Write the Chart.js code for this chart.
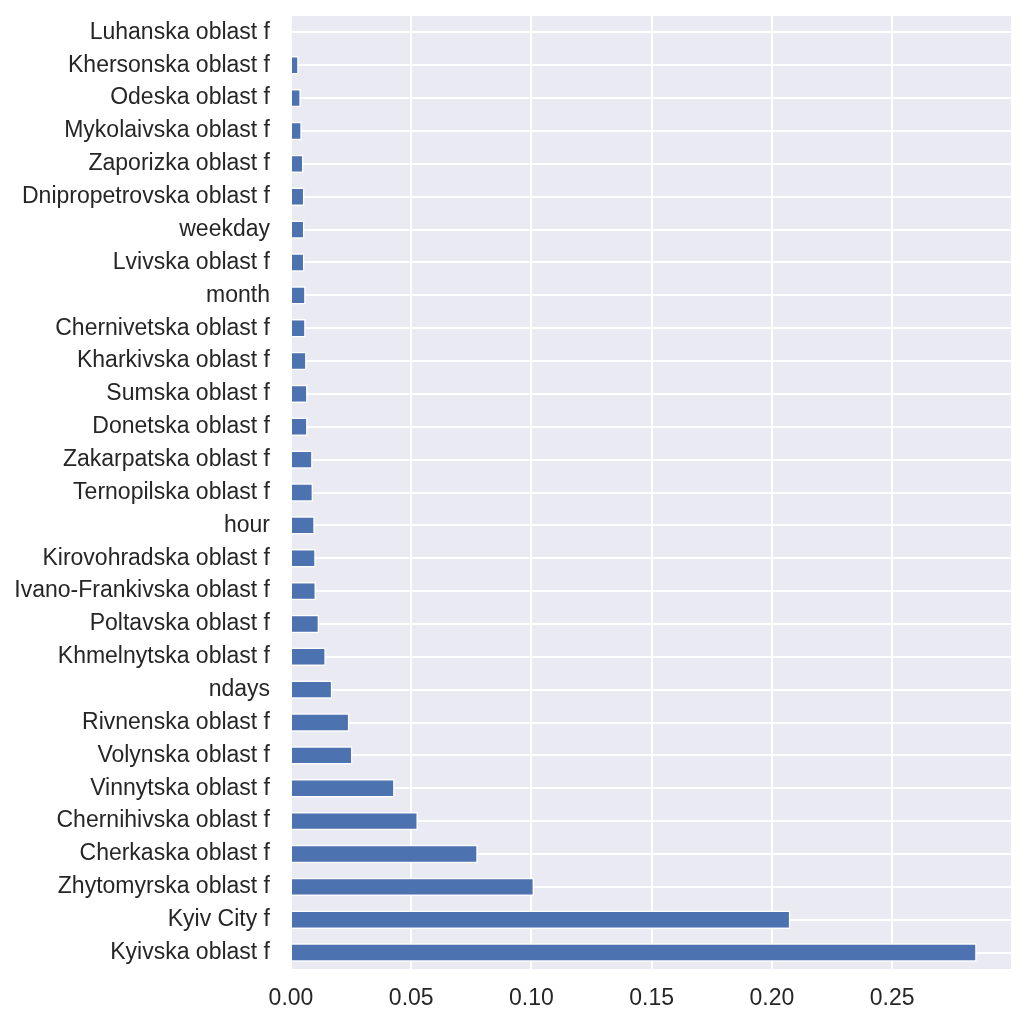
<!DOCTYPE html>
<html>
<head>
<meta charset="utf-8">
<script src="https://cdn.jsdelivr.net/npm/chart.js@4.4.1/dist/chart.umd.min.js"></script>
<style>
  html, body { margin: 0; padding: 0; background: #ffffff; }
  #wrap { width: 1026px; height: 1025px; }
</style>
</head>
<body>
<div id="wrap"><canvas id="importance-chart" width="1026" height="1025"></canvas></div>
<script>
// feature names, top of the chart first
const features = [
  'Luhanska oblast f',
  'Khersonska oblast f',
  'Odeska oblast f',
  'Mykolaivska oblast f',
  'Zaporizka oblast f',
  'Dnipropetrovska oblast f',
  'weekday',
  'Lvivska oblast f',
  'month',
  'Chernivetska oblast f',
  'Kharkivska oblast f',
  'Sumska oblast f',
  'Donetska oblast f',
  'Zakarpatska oblast f',
  'Ternopilska oblast f',
  'hour',
  'Kirovohradska oblast f',
  'Ivano-Frankivska oblast f',
  'Poltavska oblast f',
  'Khmelnytska oblast f',
  'ndays',
  'Rivnenska oblast f',
  'Volynska oblast f',
  'Vinnytska oblast f',
  'Chernihivska oblast f',
  'Cherkaska oblast f',
  'Zhytomyrska oblast f',
  'Kyiv City f',
  'Kyivska oblast f',
];

// importance values, same order
const importance = [
  0.0003, 0.0032, 0.0041, 0.0045, 0.0052, 0.0056, 0.0056, 0.0056,
  0.0061, 0.0061, 0.0065, 0.0069, 0.0069, 0.0090, 0.0092, 0.0099,
  0.0103, 0.0104, 0.0117, 0.0145, 0.0172, 0.0243, 0.0256, 0.0431,
  0.0528, 0.0777, 0.1011, 0.2077, 0.2852,
];

const xTicks = [0, 0.05, 0.1, 0.15, 0.2, 0.25];

document.addEventListener('DOMContentLoaded', function () {
  const ctx = document.getElementById('importance-chart').getContext('2d');

  // seaborn-ish grey panel behind the plot
  const panelBackground = {
    id: 'panelBackground',
    beforeDraw(chart) {
      const a = chart.chartArea;
      const c = chart.ctx;
      c.save();
      c.fillStyle = '#eaeaf2';
      c.fillRect(a.left, a.top, a.right - a.left, a.bottom - a.top);
      c.restore();
    },
  };

  const tickFont = { family: '"Liberation Sans", Arial, sans-serif', size: 23 };

  new Chart(ctx, {
    type: 'bar',
    data: {
      labels: features,
      datasets: [
        {
          data: importance,
          backgroundColor: '#4c72b0',
          borderColor: '#ffffff',
          borderWidth: 1.5,
          borderSkipped: 'start',
          categoryPercentage: 1.0,
          barPercentage: 0.56,
        },
      ],
    },
    options: {
      indexAxis: 'y',
      responsive: false,
      animation: false,
      devicePixelRatio: 1,
      layout: { padding: { top: 16, right: 15, left: 0, bottom: 0 } },
      plugins: {
        legend: { display: false },
        tooltip: { enabled: false },
      },
      scales: {
        x: {
          type: 'linear',
          min: 0,
          max: Math.max(...importance) * 1.05,
          afterBuildTicks(scale) {
            scale.ticks = xTicks.map(v => ({ value: v }));
          },
          afterFit(scale) {
            scale.height = 56;
            scale.paddingLeft = 0;
            scale.paddingRight = 0;
          },
          border: { display: false },
          grid: { color: '#ffffff', lineWidth: 2, drawTicks: false },
          ticks: {
            color: '#262626',
            font: tickFont,
            padding: 16,
            maxRotation: 0,
            callback: v => Number(v).toFixed(2),
          },
        },
        y: {
          type: 'category',
          offset: true,
          afterFit(scale) {
            scale.width = 291;
            // labels sit inside the offset, no extra room needed
            scale.paddingTop = 0;
            scale.paddingBottom = 0;
          },
          border: { display: false },
          grid: { color: '#ffffff', lineWidth: 2, drawTicks: false, offset: false },
          ticks: {
            color: '#262626',
            font: tickFont,
            padding: 21,
            autoSkip: false,
          },
        },
      },
    },
    plugins: [panelBackground],
  });
});
</script>
</body>
</html>
